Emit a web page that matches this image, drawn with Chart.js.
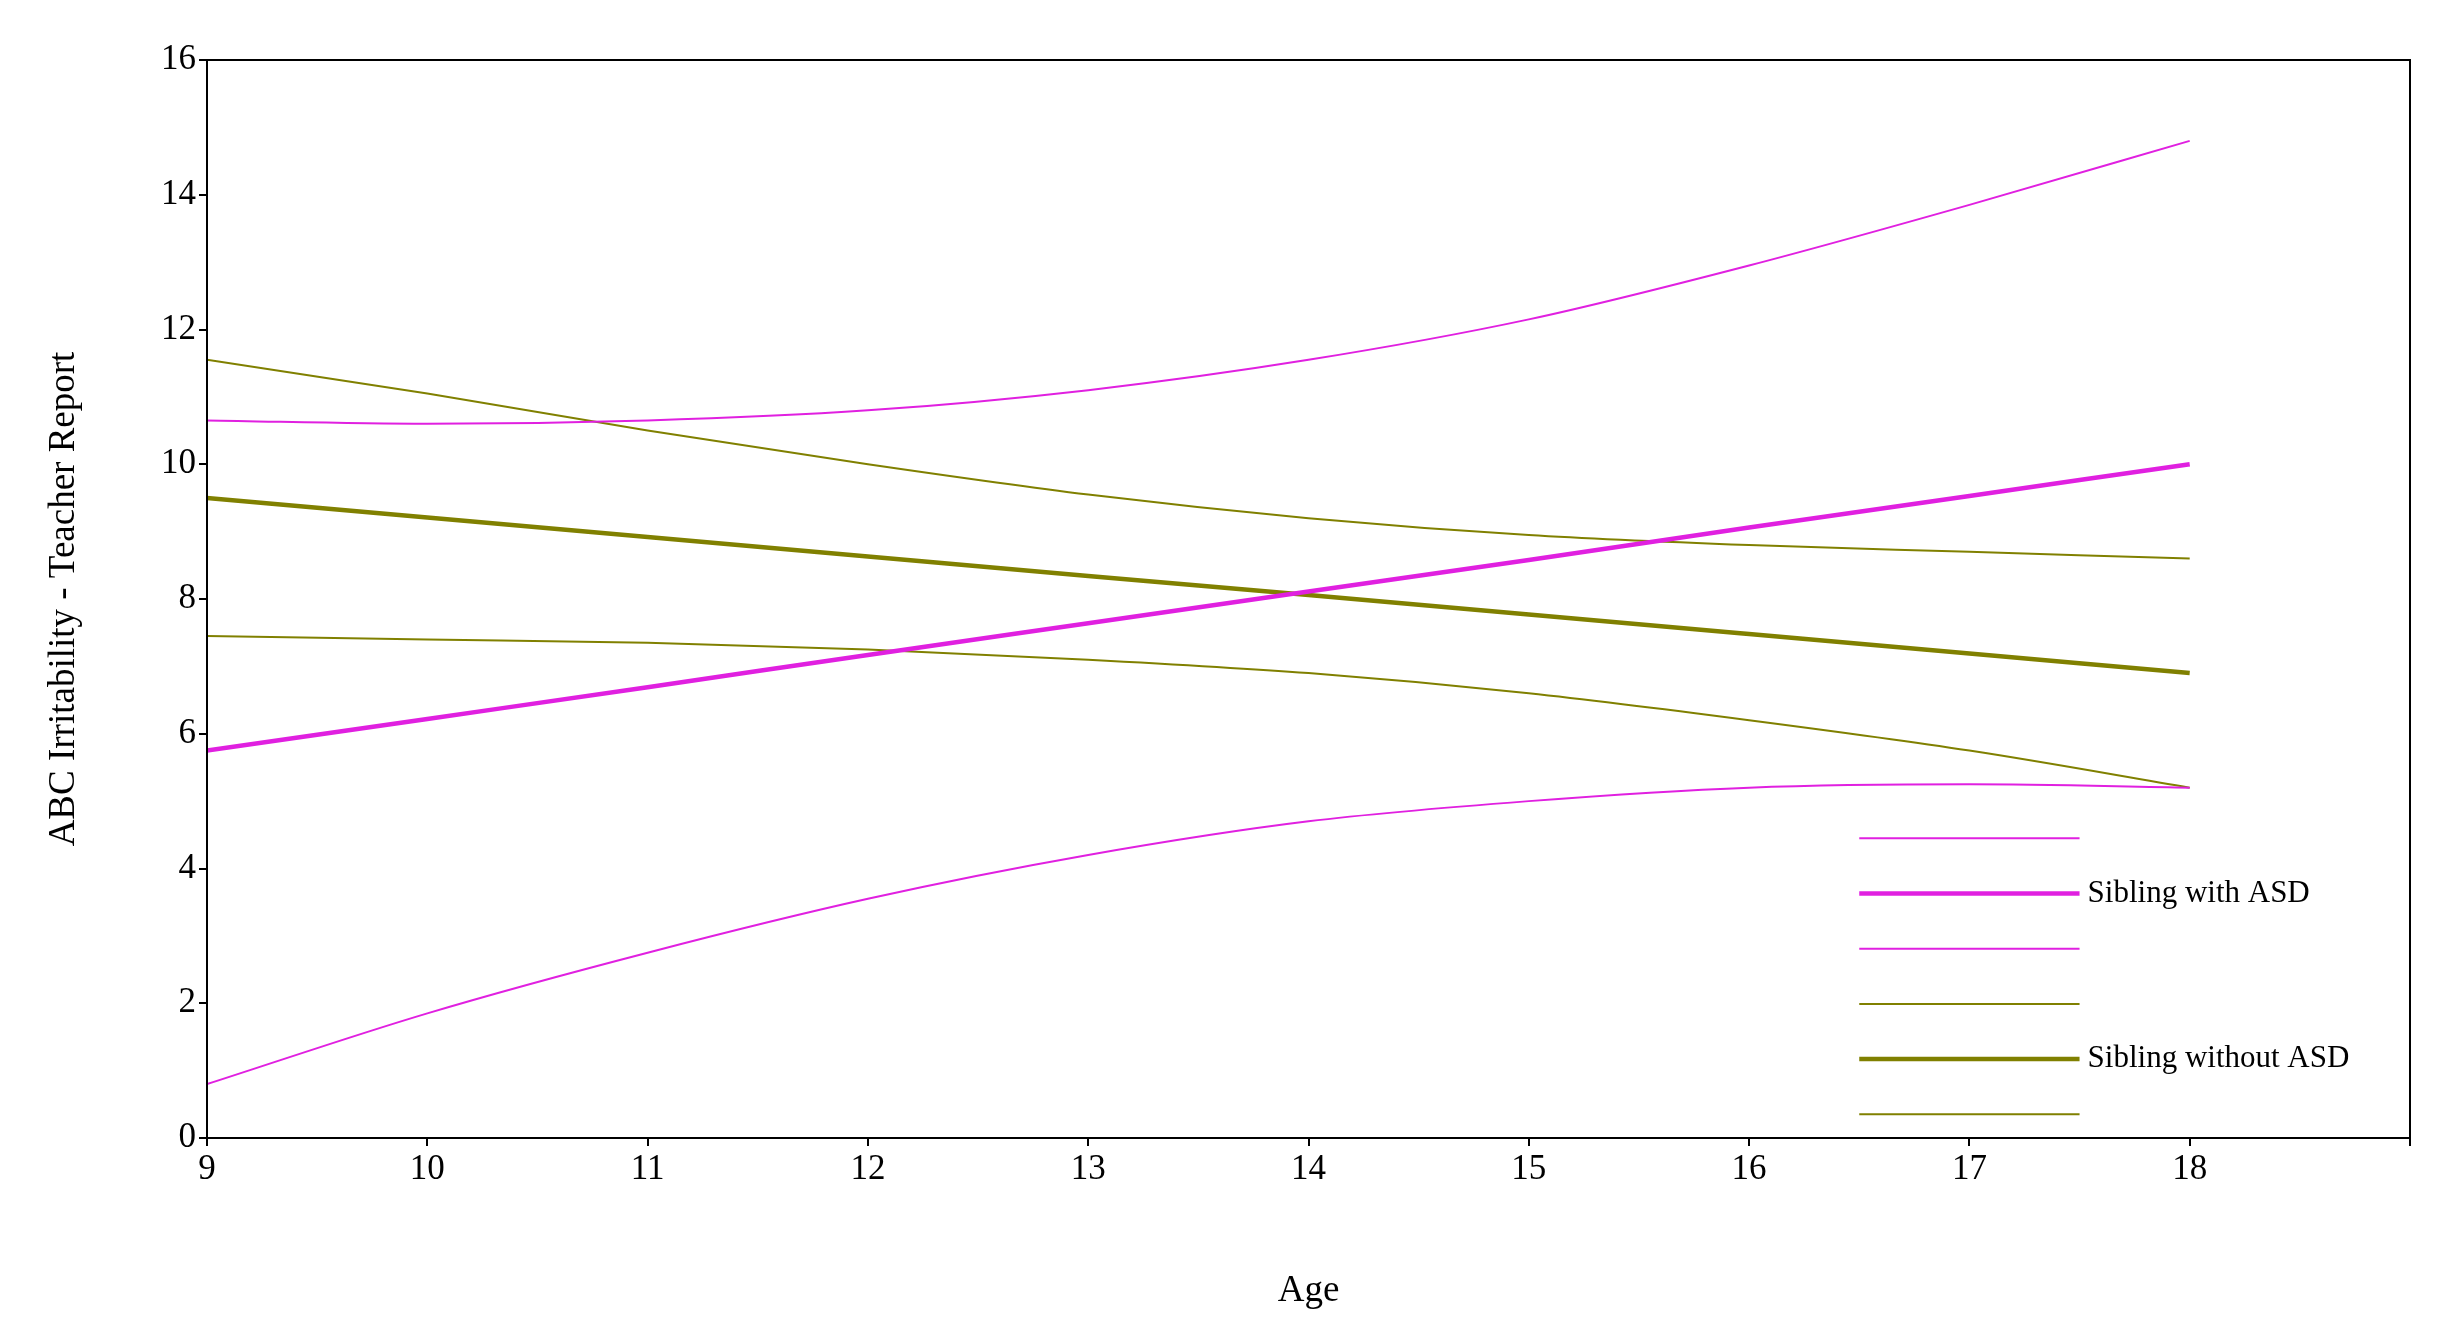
<!DOCTYPE html>
<html><head><meta charset="utf-8">
<script src="https://cdn.jsdelivr.net/npm/chart.js@4"></script>
<style>html,body{margin:0;padding:0;background:#fff}#c{display:block}</style>
</head><body>
<canvas id="c" width="2462" height="1317" style="width:2462px;height:1317px"></canvas>
<script>
const ages = [9,10,11,12,13,14,15,16,17,18];
const asdUpper = [10.65,10.6,10.65,10.8,11.1,11.55,12.15,12.95,13.85,14.8];
const asdMean  = [5.75,6.22,6.69,7.17,7.64,8.11,8.58,9.06,9.53,10.0];
const asdLower = [0.8,1.85,2.75,3.55,4.2,4.7,5.0,5.2,5.25,5.2];
const noUpper  = [11.55,11.05,10.5,10.0,9.55,9.2,8.95,8.8,8.7,8.6];
const noMean   = [9.5,9.21,8.92,8.63,8.34,8.06,7.77,7.48,7.19,6.9];
const noLower  = [7.45,7.4,7.35,7.25,7.1,6.9,6.6,6.2,5.75,5.2];
const yTicks = [0,2,4,6,8,10,12,14,16];
const PINK='#e020e0', OLIVE='#808000';
const pts = a => a.map((v,i)=>({x:ages[i],y:v}));
const ds = (lab,a,c,w)=>({label:lab,data:pts(a),borderColor:c,borderWidth:w,pointRadius:0,tension:0.4,cubicInterpolationMode:'monotone',fill:false});
const legendItems=[
 {label:'',c:PINK,w:2},{label:'Sibling with ASD',c:PINK,w:4.5},{label:'',c:PINK,w:2},
 {label:'',c:OLIVE,w:2},{label:'Sibling without ASD',c:OLIVE,w:4.5},{label:'',c:OLIVE,w:2}];
const deco={id:'deco',afterDraw(ch){
 const {ctx,chartArea:a}=ch;ctx.save();
 ctx.strokeStyle='#000';ctx.lineWidth=2;ctx.strokeRect(a.left,a.top,a.right-a.left,a.bottom-a.top);
 const x0=a.left+(a.right-a.left)*0.75, x1=a.left+(a.right-a.left)*0.85;
 const y0=a.bottom-(a.bottom-a.top)*0.278, step=(a.bottom-a.top)*0.0512;
 ctx.font='31px "Liberation Serif"';ctx.textBaseline='middle';ctx.fillStyle='#000';
 legendItems.forEach((it,i)=>{const y=y0+i*step;ctx.strokeStyle=it.c;ctx.lineWidth=it.w;
  ctx.beginPath();ctx.moveTo(x0,y);ctx.lineTo(x1,y);ctx.stroke();
  if(it.label)ctx.fillText(it.label,x1+8,y);});
 ctx.restore();}};
const tickGrid={display:true,drawOnChartArea:false,drawTicks:true,tickLength:8,color:'#000',lineWidth:2};
new Chart(document.getElementById('c'),{type:'line',
 data:{datasets:[ds('a',asdUpper,PINK,2),ds('Sibling with ASD',asdMean,PINK,4.5),ds('b',asdLower,PINK,2),
  ds('c',noUpper,OLIVE,2),ds('Sibling without ASD',noMean,OLIVE,4.5),ds('d',noLower,OLIVE,2)]},
 options:{responsive:false,animation:false,devicePixelRatio:1,
  layout:{padding:{top:60,right:52,left:38,bottom:0}},
  plugins:{legend:{display:false},tooltip:{enabled:false}},
  scales:{
   x:{type:'linear',min:9,max:19,grid:tickGrid,border:{display:false},
    ticks:{stepSize:1,color:'#000',font:{family:'Liberation Serif',size:35},callback:v=>v===19?'':v},
    title:{display:true,text:'Age',color:'#000',font:{family:'Liberation Serif',size:37},padding:{top:4}},
    afterFit(s){s.height=179;}},
   y:{min:0,max:16,afterBuildTicks(s){s.ticks=yTicks.map(v=>({value:v}));},
    grid:tickGrid,border:{display:false},
    ticks:{color:'#000',font:{family:'Liberation Serif',size:35}},
    title:{display:true,text:'ABC Irritability - Teacher Report',color:'#000',font:{family:'Liberation Serif',size:37}},
    afterFit(s){s.width=169;}}}},
 plugins:[deco]});
</script></body></html>
